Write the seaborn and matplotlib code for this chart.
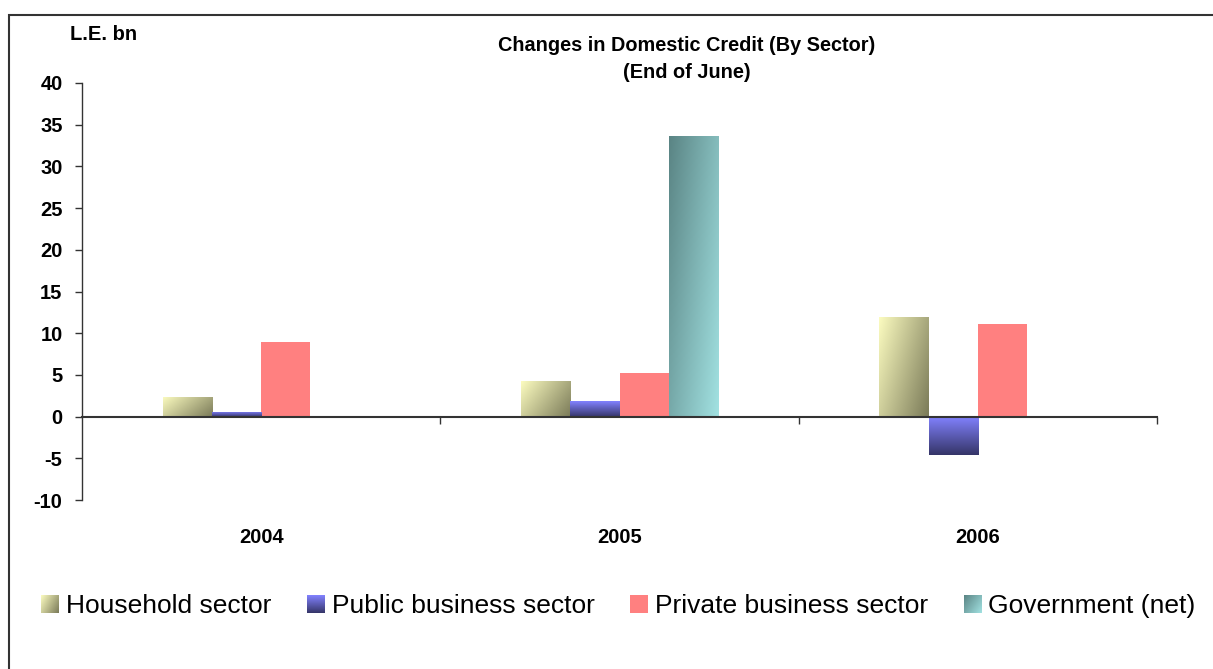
import numpy as np
import pandas as pd
import matplotlib
matplotlib.use("Agg")
import matplotlib.pyplot as plt
import seaborn as sns
from matplotlib.patches import Patch, Rectangle
from matplotlib.colors import to_rgb

# ---- data ----
years = ["2004", "2005", "2006"]
sectors = ["Household sector", "Public business sector",
           "Private business sector", "Government (net)"]
household = [2.4, 4.3, 12.0]
public = [0.6, 1.9, -4.6]
private = [8.9, 5.2, 11.1]
government = [np.nan, 33.6, np.nan]
y_ticks = list(range(-10, 45, 5))
title = "Changes in Domestic Credit (By Sector)\n(End of June)"
unit_label = "L.E. bn"

df = pd.DataFrame({
    "Year": years * 4,
    "Sector": np.repeat(sectors, len(years)),
    "Value": household + public + private + government,
})

# ---- style ----
base_colors = {
    "Household sector": "#C8C890",
    "Public business sector": "#6A6AD8",
    "Private business sector": "#FF8080",
    "Government (net)": "#80B8B8",
}
# gradient specs: (start color, end color, weight horizontal, weight vertical)
gradients = {
    "Household sector": ("#FCFCC0", "#7A7A58", 0.65, 0.35),
    "Public business sector": ("#8282FF", "#353568", 0.0, 1.0),
    "Government (net)": ("#5A8484", "#A2E2E2", 0.6, 0.4),
}

sns.set_theme(style="white")
plt.rcParams["font.family"] = ["Liberation Sans", "DejaVu Sans"]
plt.rcParams["text.color"] = "black"
plt.rcParams["axes.labelcolor"] = "black"
plt.rcParams["xtick.color"] = "black"
plt.rcParams["ytick.color"] = "black"

W, H = 1213, 669
fig = plt.figure(figsize=(W / 100, H / 100), dpi=100)
ax = fig.add_axes([82 / W, 1 - 500 / H, (1157 - 82) / W, (500 - 83) / H])

sns.barplot(data=df, x="Year", y="Value", hue="Sector", order=years,
            hue_order=sectors, palette=base_colors, width=0.55,
            errorbar=None, saturation=1, legend=False, ax=ax)


def grad_img(c0, c1, wu, wv, n=80):
    c0 = np.array(to_rgb(c0))
    c1 = np.array(to_rgb(c1))
    u = np.linspace(0, 1, n)[None, :]
    v = np.linspace(0, 1, n)[:, None]
    t = (wu * u + wv * v) / (wu + wv)
    return c0[None, None, :] * (1 - t[..., None]) + c1[None, None, :] * t[..., None]


# overlay gradients on bars
color_to_sector = {to_rgb(c): s for s, c in base_colors.items()}
for p in list(ax.patches):
    h = p.get_height()
    if not np.isfinite(h) or h == 0:
        continue
    fc = tuple(p.get_facecolor()[:3])
    sector = None
    for c, s in color_to_sector.items():
        if np.allclose(c, fc, atol=0.01):
            sector = s
    p.set_edgecolor("none")
    if sector in gradients:
        c0, c1, wu, wv = gradients[sector]
        x0, w, y0 = p.get_x(), p.get_width(), p.get_y()
        ymin, ymax = min(y0, y0 + h), max(y0, y0 + h)
        im = ax.imshow(grad_img(c0, c1, wu, wv), extent=(x0, x0 + w, ymin, ymax),
                       origin="upper", aspect="auto", zorder=p.get_zorder() + 0.1,
                       interpolation="bilinear")
        im.set_clip_path(p)

ax.set_xlim(-0.5, 2.5)
ax.set_ylim(-10, 40)
ax.set_xlabel("")
ax.set_ylabel("")
ax.set_yticks(y_ticks)
ax.set_yticklabels([str(t) for t in y_ticks], fontsize=14.5, fontweight="bold")
ax.tick_params(axis="y", left=True, length=5, width=1, color="#333333",
               direction="out", pad=9, labelcolor="black")
ax.spines["top"].set_visible(False)
ax.spines["right"].set_visible(False)
ax.spines["left"].set_color("#333333")
ax.spines["left"].set_linewidth(1.0)
ax.spines["bottom"].set_position(("data", 0))
ax.spines["bottom"].set_color("#333333")
ax.spines["bottom"].set_linewidth(1.5)
ax.spines["bottom"].set_zorder(5)
ax.set_xticks(range(len(years)))
ax.tick_params(axis="x", which="major", length=0, labelbottom=False, bottom=False)
ax.set_xticks([i + 0.5 for i in range(len(years))], minor=True)
ax.tick_params(axis="x", which="minor", bottom=True, length=5, width=1,
               color="#333333", direction="out")
ax.grid(False)

sec = ax.secondary_xaxis(0.0)
sec.set_xticks(range(len(years)))
sec.set_xticklabels(years, fontsize=14.5, fontweight="bold", color="black")
sec.tick_params(length=0, pad=20)
sec.spines["bottom"].set_visible(False)

# titles
fig.text(687 / W, 1 - 59 / H, title, ha="center", va="center",
         fontsize=14.3, fontweight="bold", linespacing=1.5, color="black")
fig.text(70 / W, 1 - 35 / H, unit_label, ha="left", va="center",
         fontsize=14.5, fontweight="bold", color="black")

# outer frame (top and left edges visible)
fig.add_artist(Rectangle((8.5 / W, -0.2), 1.2, 1.2 + (1 - 15 / H) - 1,
                         transform=fig.transFigure, fill=False,
                         edgecolor="#333333", linewidth=1.5, clip_on=False))

# legend
handles = [Patch(facecolor=base_colors[s], edgecolor="none") for s in sectors]
leg = fig.legend(handles, sectors, loc="center",
                 bbox_to_anchor=(618.5 / W, 1 - 606 / H), ncol=4, frameon=False,
                 fontsize=19, handlelength=0.68, handleheight=0.66,
                 handletextpad=0.25, columnspacing=1.36, labelcolor="black")
fig.canvas.draw()
renderer = fig.canvas.get_renderer()
for patch, s in zip(leg.get_patches(), sectors):
    if s not in gradients:
        continue
    bb = patch.get_window_extent(renderer)
    lax = fig.add_axes([bb.x0 / W, bb.y0 / H, bb.width / W, bb.height / H])
    c0, c1, wu, wv = gradients[s]
    lax.imshow(grad_img(c0, c1, wu, wv), aspect="auto", interpolation="bilinear")
    lax.axis("off")
    lax.set_zorder(20)

fig.savefig("out.png", dpi=100)
